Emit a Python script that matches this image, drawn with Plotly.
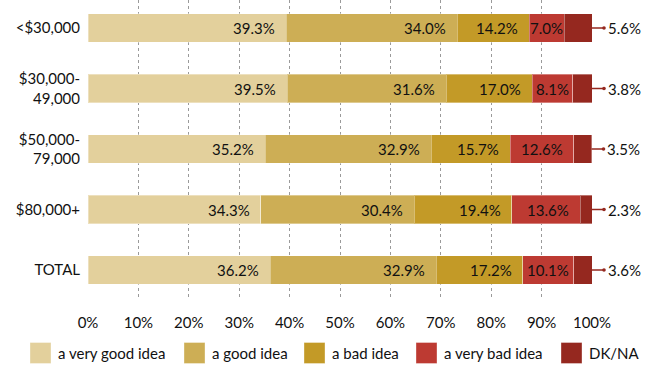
import plotly.graph_objects as go

# Income groups (top to bottom) and response shares in percent
groups = ["<$30,000", "$30,000-<br>49,000", "$50,000-<br>79,000", "$80,000+", "TOTAL"]
responses = ["a very good idea", "a good idea", "a bad idea", "a very bad idea", "DK/NA"]
very_good = [39.3, 39.5, 35.2, 34.3, 36.2]
good = [34.0, 31.6, 32.9, 30.4, 32.9]
bad = [14.2, 17.0, 15.7, 19.4, 17.2]
very_bad = [7.0, 8.1, 12.6, 13.6, 10.1]
dk_na = [5.6, 3.8, 3.5, 2.3, 3.6]
x_ticks = [0, 10, 20, 30, 40, 50, 60, 70, 80, 90, 100]

colors = ["#E3D09C", "#CDAE55", "#C39A27", "#BD3A32", "#95281F"]
series = [very_good, good, bad, very_bad, dk_na]

FONT = "Lato, 'Open Sans', sans-serif"
W, H = 657, 369
M_L, M_R, M_T, M_B = 88, 65, 0, 69
PLOT_W = W - M_L - M_R
PLOT_H = H - M_T - M_B

# Legend layout: left pixel of each swatch
LEG_SWATCH_X = [30, 184, 304, 416, 561]
LEG_SWATCH = 21
LEG_Y_CENTER = 353

fig = go.Figure()
rows = list(range(len(groups)))

for name, vals, col in zip(responses, series, colors):
    fig.add_trace(go.Bar(
        name=name,
        y=rows,
        x=vals,
        orientation="h",
        marker=dict(color=col, line=dict(color="rgba(255,255,255,0.35)", width=1)),
        width=0.47,
        hoverinfo="x+name",
        showlegend=False,
    ))

# Value labels inside each segment (right aligned, narrow segments centered)
for r in rows:
    left = 0.0
    for name, vals in zip(responses, series):
        v = vals[r]
        right = left + v
        if name != "DK/NA":
            narrow = v < 11
            fig.add_annotation(
                x=(left + right) / 2 if narrow else right, y=r,
                xref="x", yref="y", showarrow=False,
                xanchor="center" if narrow else "right",
                xshift=0 if narrow else -9,
                text=f"{v:.1f}%",
                font=dict(family=FONT, size=15, color="#111111"),
            )
        left = right
    # DK/NA value sits outside the bar end with a short pointer
    fig.add_annotation(
        x=min(left, 100), y=r, xref="x", yref="y",
        text=f"{dk_na[r]:.1f}%",
        showarrow=True, ax=32, ay=0,
        arrowside="start", arrowhead=0,
        startarrowhead=6, startarrowsize=0.6, arrowwidth=1.5,
        startstandoff=2,
        arrowcolor="#95281F",
        font=dict(family=FONT, size=15, color="#111111"),
    )

# Legend swatches and labels
for name, col, px in zip(responses, colors, LEG_SWATCH_X):
    x0 = (px - M_L) / PLOT_W
    x1 = (px + LEG_SWATCH - M_L) / PLOT_W
    y0 = (H - M_B - (LEG_Y_CENTER + LEG_SWATCH / 2)) / PLOT_H
    y1 = (H - M_B - (LEG_Y_CENTER - LEG_SWATCH / 2)) / PLOT_H
    fig.add_shape(type="rect", xref="paper", yref="paper",
                  x0=x0, x1=x1, y0=y0, y1=y1,
                  fillcolor=col, line=dict(color="rgba(255,255,255,0.35)", width=1))
    fig.add_annotation(
        x=(px + LEG_SWATCH + 5 - M_L) / PLOT_W,
        y=(H - M_B - LEG_Y_CENTER) / PLOT_H,
        xref="paper", yref="paper", showarrow=False,
        xanchor="left", yanchor="middle", text=name,
        font=dict(family=FONT, size=15, color="#111111"),
    )

fig.update_layout(
    barmode="stack",
    width=W, height=H,
    margin=dict(l=M_L, r=M_R, t=M_T, b=M_B),
    plot_bgcolor="white", paper_bgcolor="white",
    font=dict(family=FONT, size=15, color="#111111"),
    showlegend=False,
    xaxis=dict(range=[0, 100], tickvals=x_ticks,
               ticktext=[f"{t}%" for t in x_ticks],
               showgrid=True, gridcolor="#9a9a9a", griddash="dot", gridwidth=1,
               zeroline=False, showline=False, ticks="", ticklabelstandoff=12,
               tickfont=dict(family=FONT, size=15)),
    yaxis=dict(range=[4.496, -0.463], tickvals=rows, ticktext=groups,
               showgrid=False, zeroline=False, showline=False, ticks="",
               ticklabelstandoff=7,
               tickfont=dict(family=FONT, size=15)),
)

fig.write_html("out.html")
